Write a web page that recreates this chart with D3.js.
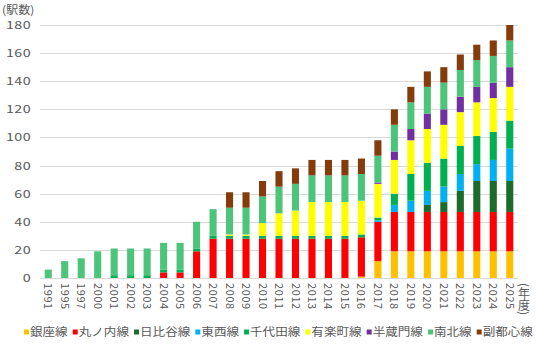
<!DOCTYPE html>
<html><head><meta charset="utf-8">
<script src="https://cdn.jsdelivr.net/npm/d3@7"></script>
<style>body{margin:0;background:#fff}svg{display:block}</style>
</head><body>
<svg id="chart" width="536" height="348"></svg>
<script>
// ---- data ----
const years = ["1991","1995","1997","2000","2001","2002","2003","2004","2005","2006","2007","2008","2009","2010","2011","2012","2013","2014","2015","2016","2017","2018","2019","2020","2021","2022","2023","2024","2025"];
const lineNames = ["銀座線","丸ノ内線","日比谷線","東西線","千代田線","有楽町線","半蔵門線","南北線","副都心線"];
const lineColors = ["#FFC000","#FF0000","#1B6B2B","#00B0F0","#00B050","#FFFF00","#7030A0","#4CC47A","#843C0C"];
const ginza      = [0,0,0,0,0,0,0,0,0,0,0,0,0,0,0,0,0,0,0,1,12,19,19,19,19,19,19,19,19];
const marunouchi = [0,0,0,0,0,0,0,4,4,19,28,28,28,28,28,28,28,28,28,28,28,28,28,28,28,28,28,28,28];
const hibiya     = [0,0,0,0,0,0,0,0,0,0,0,0,0,0,0,0,0,0,0,0,0,0,0,5,7,15,22,22,22];
const tozai      = [0,0,0,0,0,0,0,0,0,0,0,0,0,0,0,0,0,0,0,0,1,5,8,10,11,12,12,15,23];
const chiyoda    = [0,0,0,0,2,2,2,2,2,2,2,2,2,2,2,2,2,2,2,2,2,8,19,20,20,20,20,20,20];
const yurakucho  = [0,0,0,0,0,0,0,0,0,0,0,1,1,9,16,18,24,24,24,24,24,24,24,24,24,24,24,24,24];
const hanzomon   = [0,0,0,0,0,0,0,0,0,0,0,0,0,0,0,0,0,0,0,0,1,6,8,11,11,11,11,11,14];
const namboku    = [6,12,14,19,19,19,19,19,19,19,19,19,19,19,19,19,19,19,19,19,19,19,19,19,19,19,19,19,19];
const fukutoshin = [0,0,0,0,0,0,0,0,0,0,0,11,11,11,11,11,11,11,11,11,11,11,11,11,11,11,11,11,11];
const yTicks = [0,20,40,60,80,100,120,140,160,180];
const yTitle = "(駅数)";
const xTitle = "(年度)";

const seriesValues = [ginza,marunouchi,hibiya,tozai,chiyoda,yurakucho,hanzomon,namboku,fukutoshin];
const table = years.map((y,i)=>{const r={year:y}; lineNames.forEach((n,k)=>r[n]=seriesValues[k][i]); return r;});

const svg = d3.select("#chart");
const FONT = "'Noto Sans CJK JP','Noto Sans',sans-serif";
const TXT = "#595959";

const x = d3.scaleBand().domain(years).range([40,518]).paddingInner(0.57).paddingOuter(0.285);
const y = d3.scaleLinear().domain([0,180]).range([278,25]);

// gridlines
svg.append("g").selectAll("line").data(yTicks).join("line")
  .attr("x1",40).attr("x2",518)
  .attr("y1",d=>Math.round(y(d))+0.5).attr("y2",d=>Math.round(y(d))+0.5)
  .attr("stroke","#D9D9D9").attr("stroke-width",1);

// y labels
svg.append("g").selectAll("text").data(yTicks).join("text")
  .attr("transform",d=>`translate(31,${y(d)}) scale(1.3,1)`)
  .attr("text-anchor","end").attr("dy","0.36em")
  .attr("font-family",FONT).attr("font-size",11).attr("fill",TXT)
  .attr("letter-spacing","0.3px")
  .text(d=>d);

svg.append("text").attr("x",2).attr("y",14)
  .attr("font-family",FONT).attr("font-size",11).attr("fill",TXT)
  .attr("transform","translate(2,0) scale(1.1,1) translate(-2,0)")
  .text(yTitle);

// bars
const stack = d3.stack().keys(lineNames)(table);
svg.append("g").selectAll("g").data(stack).join("g")
  .attr("fill",(d,i)=>lineColors[i])
  .selectAll("rect").data(d=>d).join("rect")
  .attr("x",d=>x(d.data.year))
  .attr("width",x.bandwidth())
  .attr("y",d=>y(d[1]))
  .attr("height",d=>y(d[0])-y(d[1]));

// x labels (rotated)
svg.append("g").selectAll("text").data(years).join("text")
  .attr("transform",d=>`translate(${x(d)+x.bandwidth()/2},283) rotate(90)`)
  .attr("text-anchor","start").attr("dy","0.36em")
  .attr("font-family",FONT).attr("font-size",11).attr("fill",TXT)
  .attr("letter-spacing","0.6px")
  .text(d=>d);

// x title, vertical writing
svg.append("text")
  .attr("x",524).attr("y",283)
  .attr("font-family",FONT).attr("font-size",12).attr("fill",TXT)
  .style("writing-mode","vertical-rl").style("text-orientation","mixed")
  .text(xTitle);

// legend
const lg = svg.append("g");
const legendY = 332, fs = 11;
const items = lineNames.map((n,i)=>{
  const g = lg.append("g");
  g.append("rect").attr("width",5).attr("height",5).attr("y",-2.5).attr("fill",lineColors[i]);
  const t = g.append("text").attr("x",0).attr("dy","0.35em")
    .attr("font-family",FONT).attr("font-size",fs).attr("fill",TXT).text(n);
  return {g,t,w:t.node().getComputedTextLength()};
});
const gapSq = 6, gapItem = 5, start = 24, end = 533;
const totalText = d3.sum(items,d=>d.w);
const sx = (end-start - items.length*gapSq - (items.length-1)*gapItem)/totalText;
let cx = start;
items.forEach(it=>{
  it.g.attr("transform",`translate(${cx},${legendY})`);
  it.t.attr("transform",`translate(${gapSq},0) scale(${sx},1)`);
  cx += gapSq + it.w*sx + gapItem;
});
</script>
</body></html>
